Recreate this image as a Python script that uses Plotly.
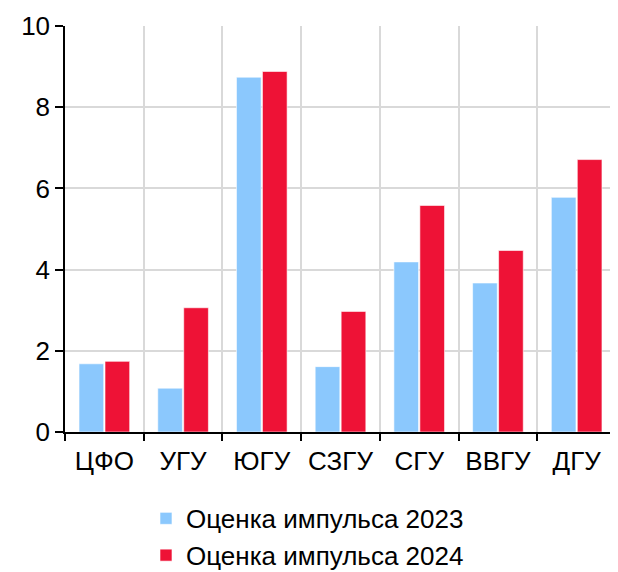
import plotly.graph_objects as go

categories = ["ЦФО", "УГУ", "ЮГУ", "СЗГУ", "СГУ", "ВВГУ", "ДГУ"]
impulse_2023 = [1.68, 1.08, 8.74, 1.61, 4.19, 3.67, 5.78]
impulse_2024 = [1.74, 3.06, 8.88, 2.97, 5.58, 4.47, 6.71]
name_2023 = "Оценка импульса 2023"
name_2024 = "Оценка импульса 2024"
y_ticks = [0, 2, 4, 6, 8, 10]

fig = go.Figure()
fig.add_trace(go.Bar(x=categories, y=impulse_2023, name=name_2023,
                     marker=dict(color="#8BC8FD", line=dict(color="#ffffff", width=0.6))))
fig.add_trace(go.Bar(x=categories, y=impulse_2024, name=name_2024,
                     marker=dict(color="#EE1236", line=dict(color="#ffffff", width=0.6))))

fig.update_layout(
    width=610, height=564,
    margin=dict(l=57, r=2, t=18, b=140, autoexpand=False),
    paper_bgcolor="white", plot_bgcolor="white",
    font=dict(family="Liberation Sans, Arial, sans-serif", size=26, color="#000000"),
    barmode="group", bargap=0.34, bargroupgap=0.05,
    showlegend=True,
    legend=dict(orientation="v", x=0.147, xanchor="left", y=-0.155, yanchor="top",
                font=dict(size=26), itemclick=False, bgcolor="rgba(0,0,0,0)"),
)
fig.update_xaxes(
    type="category", showline=True, linecolor="#000000", linewidth=1.5,
    ticks="outside", ticklen=7, tickcolor="#000000", tickwidth=1.5,
    tickson="boundaries", showgrid=True, gridcolor="#d9d9d9", gridwidth=1.5,
    tickfont=dict(size=26), tickangle=0, zeroline=False, ticklabelstandoff=5,
)
fig.update_yaxes(
    range=[0, 10], tickvals=y_ticks, showline=True, linecolor="#000000", linewidth=1.5,
    ticks="outside", ticklen=8, tickcolor="#000000", tickwidth=1.5,
    showgrid=True, gridcolor="#d9d9d9", gridwidth=1.5, zeroline=False,
    tickfont=dict(size=26),
)

fig.write_html("out.html")
